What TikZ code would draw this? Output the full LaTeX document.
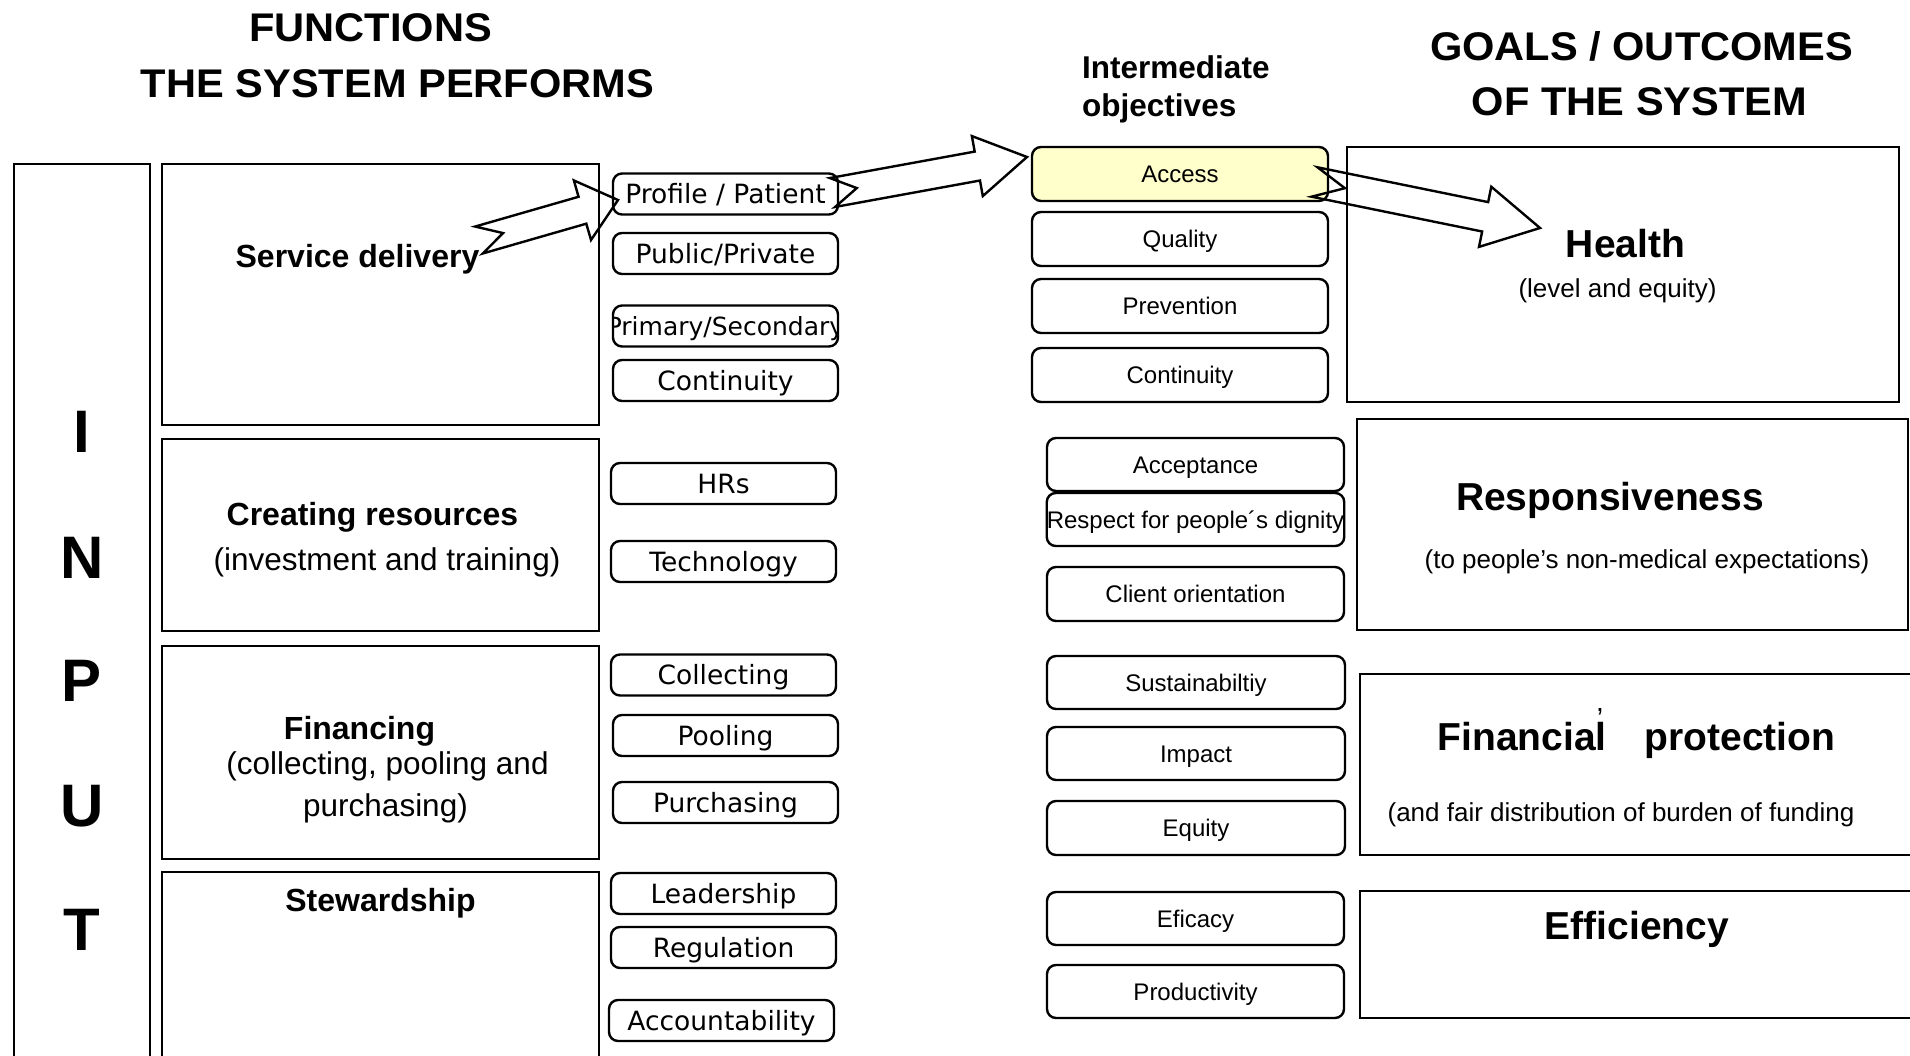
\documentclass[tikz,border=0pt]{standalone}
\usepackage{fontspec}
\setmainfont{Liberation Sans}
\newfontfamily\headfont[FakeStretch=1.04]{Liberation Sans}
\newfontfamily\dejavu{DejaVu Sans}
\usetikzlibrary{calc}
\definecolor{accessyellow}{HTML}{FFFFCC}

\tikzset{
  panel/.style={draw, line width=2.6pt, inner sep=0pt, outer sep=0pt},
  funcitem/.style={draw, rounded corners=9pt, line width=2.4pt, minimum width=225pt,
    minimum height=41pt, inner sep=0pt, outer sep=0pt,
    font=\dejavu\fontsize{26.5}{30}\selectfont, text height=19.3pt, text depth=0pt},
  objitem/.style={draw, rounded corners=9pt, line width=2.4pt, minimum width=296pt,
    minimum height=53pt, inner sep=0pt, outer sep=0pt,
    font=\fontsize{24}{28}\selectfont, text height=17.2pt, text depth=0pt},
  header/.style={font=\headfont\bfseries\fontsize{40}{44}\selectfont, inner sep=0pt, anchor=base},
  midheader/.style={font=\bfseries\fontsize{31.5}{36}\selectfont, inner sep=0pt, anchor=base west},
  boldlbl/.style={font=\bfseries\fontsize{32}{36}\selectfont, inner sep=0pt, anchor=base},
  plainlbl/.style={font=\fontsize{31.5}{36}\selectfont, inner sep=0pt, anchor=base},
  goalttl/.style={font=\bfseries\fontsize{39}{44}\selectfont, inner sep=0pt, anchor=base},
  goalsub/.style={font=\fontsize{26}{30}\selectfont, inner sep=0pt, anchor=base},
  inputletter/.style={font=\bfseries\fontsize{60}{66}\selectfont, inner sep=0pt, anchor=base},
  blockarr/.style={draw, line width=2.4pt, line join=miter},
}

% notched hollow block arrow:
% #1 tail, #2 tip, #3 shaft half-width, #4 head half-width, #5 head length, #6 notch depth
\newcommand{\hollowarrow}[6]{%
  \coordinate (hj) at ($(#2)!#5!(#1)$);
  \draw[blockarr]
    ($(#1)!#3!90:(#2)$) -- ($(hj)!#3!90:(#2)$) -- ($(hj)!#4!90:(#2)$) -- (#2)
    -- ($(hj)!#4!-90:(#2)$) -- ($(hj)!#3!-90:(#2)$) -- ($(#1)!#3!-90:(#2)$)
    -- ($(#1)!#6!(#2)$) -- cycle;
}

\begin{document}
\begin{tikzpicture}[x=1pt,y=-1pt]
\useasboundingbox (0,0) rectangle (1910,1056);
\fill[white] (0,0) rectangle (1910,1056);
\begin{scope}
\clip (0,0) rectangle (1910,1056);

% column headers
\node[header] (fnA) at (370.5,42) {FUNCTIONS};
\node[header] (fnB) at (397.5,98) {THE SYSTEM PERFORMS};
\node[midheader] (imA) at (1082,79) {Intermediate};
\node[midheader] (imB) at (1082,117) {objectives};
\node[header] (goA) at (1641.5,61) {GOALS / OUTCOMES};
\node[header] (goB) at (1639.5,116) {OF THE SYSTEM};

% input column
\node[panel, minimum width=136pt, minimum height=940pt] (inputbox) at (82,634) {};
\node[inputletter] (inI) at (82,452) {I};
\node[inputletter] (inN) at (82,578) {N};
\node[inputletter] (inP) at (82,701) {P};
\node[inputletter] (inU) at (82,826) {U};
\node[inputletter] (inT) at (82,950) {T};

% functions
\node[panel, minimum width=437pt, minimum height=261pt] (sdbox) at (380.5,294.5) {};
\node[panel, minimum width=437pt, minimum height=192pt] (crbox) at (380.5,535) {};
\node[panel, minimum width=437pt, minimum height=213pt] (finbox) at (380.5,752.5) {};
\node[panel, minimum width=437pt, minimum height=240pt] (stwbox) at (380.5,992) {};

\node[boldlbl] (sdlbl) at (357.5,268) {Service delivery};
\node[boldlbl] (crlbl) at (372.5,525) {Creating resources};
\node[plainlbl] (crsub) at (387,570) {(investment and training)};
\node[boldlbl] (finlbl) at (359.5,739) {Financing};
\node[plainlbl] (finsubA) at (387.5,774) {(collecting, pooling and};
\node[plainlbl] (finsubB) at (385.5,816) {purchasing)};
\node[boldlbl] (stwlbl) at (380.5,911) {Stewardship};

% function components
\node[funcitem] (pp) at (725.5,194) {Profile / Patient};
\node[funcitem] (pubpriv) at (725.5,253.5) {Public/Private};
\node[funcitem, path picture={
    \node[font=\dejavu\fontsize{25}{30}\selectfont, text height=18.2pt, text depth=0pt,
      inner sep=0pt] (primsectext) at (path picture bounding box.center) {Primary/Secondary};}]
  (primsec) at (725.5,326) {};
\node[funcitem] (contA) at (725.5,380.5) {Continuity};
\node[funcitem] (hrs) at (723.5,483.5) {HRs};
\node[funcitem] (tech) at (723.5,561.5) {Technology};
\node[funcitem] (coll) at (723.5,675) {Collecting};
\node[funcitem] (pool) at (725.5,735.5) {Pooling};
\node[funcitem] (purch) at (725.5,802.5) {Purchasing};
\node[funcitem] (lead) at (723.5,893.5) {Leadership};
\node[funcitem] (regul) at (723.5,947.5) {Regulation};
\node[funcitem] (acct) at (721.5,1020.5) {Accountability};

% intermediate objectives
\node[objitem, fill=accessyellow, minimum height=54pt] (acc) at (1180,174) {Access};
\node[objitem, minimum height=54pt] (qual) at (1180,239) {Quality};
\node[objitem, minimum height=54pt] (prev) at (1180,306) {Prevention};
\node[objitem, minimum height=54pt] (contB) at (1180,375) {Continuity};
\node[objitem, minimum width=297pt] (acpt) at (1195.5,464.5) {Acceptance};
\node[objitem, minimum width=297pt] (respd) at (1195.5,519.5) {Respect for people´s dignity};
\node[objitem, minimum width=297pt, minimum height=54pt] (client) at (1195.5,594) {Client orientation};
\node[objitem, minimum width=298pt] (sust) at (1196,682.5) {Sustainabiltiy};
\node[objitem, minimum width=298pt] (impact) at (1196,753.5) {Impact};
\node[objitem, minimum width=298pt, minimum height=54pt] (equity) at (1196,828) {Equity};
\node[objitem, minimum width=297pt] (efic) at (1195.5,918.5) {Eficacy};
\node[objitem, minimum width=297pt] (prod) at (1195.5,991.5) {Productivity};

% goals / outcomes
\node[panel, minimum width=552pt, minimum height=255pt] (healthbox) at (1623,274.5) {};
\node[panel, minimum width=551pt, minimum height=211pt] (respbox) at (1632.5,524.5) {};
\node[panel, minimum width=570pt, minimum height=181pt] (finpbox) at (1645,764.5) {};
\node[panel, minimum width=570pt, minimum height=127pt] (effbox) at (1645,954.5) {};

\node[goalttl] (healthlbl) at (1625.5,258) {Health};
\node[goalsub] (healthsub) at (1617.5,298) {(level and equity)};
\node[goalttl] (resplbl) at (1610,510) {Responsiveness};
\node[goalsub] (respsub) at (1647,568) {(to people’s non-medical expectations)};
\node[goalttl] (finplbl) at (1636.5,750) {Financial\hspace{38pt}protection};
\node[font=\fontsize{28}{30}\selectfont, inner sep=0pt, anchor=base] (finpmark) at (1600,711) {,};
\node[goalsub] (finpsub) at (1621,821) {(and fair distribution of burden of funding};
\node[goalttl] (efflbl) at (1637,939) {Efficiency};

% hollow arrows
\coordinate (aOneTail) at (479,240);
\coordinate (aOneTip) at ($(pp.west)+(5,6)$);
\coordinate (aTwoTail) at ($(pp.east)+(-5.5,-1.5)$);
\coordinate (aTwoTip) at ($(acc.north west)+(-5,10)$);
\coordinate (aThreeTail) at ($(acc.east)+(-13.5,8)$);
\coordinate (aThreeTip) at (1540,228);
\hollowarrow{aOneTail}{aOneTip}{14pt}{31pt}{37pt}{25pt}
\hollowarrow{aTwoTail}{aTwoTip}{14.7pt}{30.5pt}{50.5pt}{24.7pt}
\hollowarrow{aThreeTail}{aThreeTip}{15pt}{30.7pt}{56pt}{31pt}

\end{scope}
\end{tikzpicture}
\end{document}
